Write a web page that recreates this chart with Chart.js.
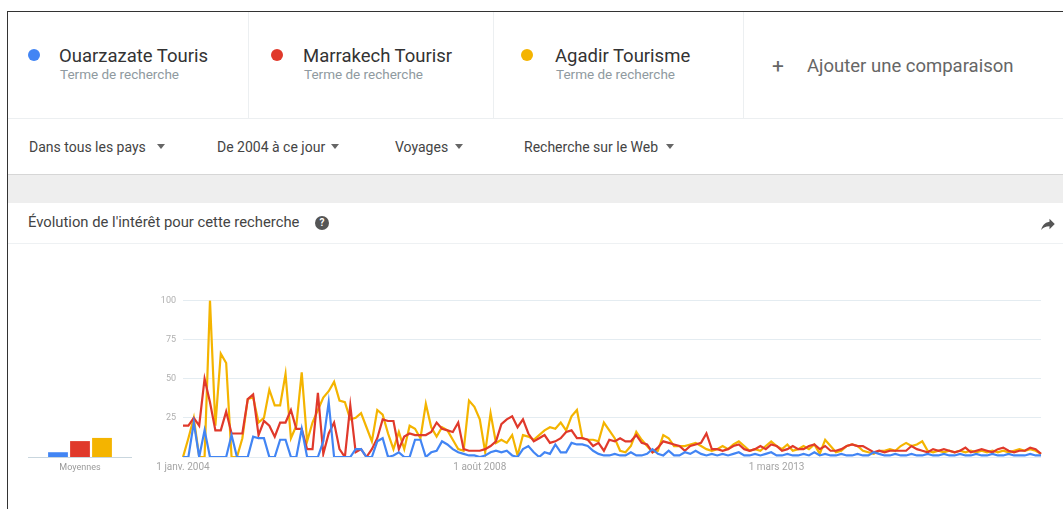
<!DOCTYPE html>
<html lang="fr">
<head>
<meta charset="utf-8">
<title>Évolution de l'intérêt pour cette recherche</title>
<script src="https://cdn.jsdelivr.net/npm/chart.js"></script>
<style>
  html, body { margin: 0; padding: 0; background: #fff; }
  body {
    width: 1063px; height: 509px; position: relative; overflow: hidden;
    font-family: Roboto, "Noto Sans", Arial, sans-serif; color: #333;
  }
  .abs { position: absolute; white-space: nowrap; }
  .frame { position: absolute; left: 7px; top: 11px; width: 1070px; height: 520px;
           border-top: 1px solid #333; border-left: 1px solid #333; }
  .vsep { position: absolute; top: 12px; width: 1px; height: 106px; background: #eceff1; }
  .dot { position: absolute; width: 12px; height: 12px; border-radius: 50%; }
  .name { font-size: 18.5px; line-height: 22px; color: #333; }
  .sub { font-size: 13.5px; line-height: 16px; color: #8f9aa0; }
  .filter { font-size: 14px; line-height: 16px; color: #444; }
  .caret { position: absolute; width: 0; height: 0;
           border-left: 4px solid transparent; border-right: 4px solid transparent;
           border-top: 5px solid #666; }
  .band { position: absolute; left: 8px; top: 174px; width: 1060px; height: 28px;
          background: #eeeeee; border-top: 1px solid #d6d6d6; }
  .help { position: absolute; left: 315px; top: 216px; width: 14px; height: 14px; border-radius: 50%;
          background: #555; color: #fff; font-size: 10px; font-weight: bold; line-height: 14px; text-align: center; }
  .chartbox { position: absolute; }
</style>
</head>
<body>
<div class="frame"></div>

<!-- termes de recherche -->
<div class="dot" style="left:28px; top:49px; background:#4285f4"></div>
<div class="abs name" style="left:59px; top:45px">Ouarzazate Touris</div>
<div class="abs sub" style="left:60px; top:66px">Terme de recherche</div>
<div class="vsep" style="left:248px"></div>

<div class="dot" style="left:271px; top:49px; background:#e0392b"></div>
<div class="abs name" style="left:303px; top:45px">Marrakech Tourisr</div>
<div class="abs sub" style="left:304px; top:66px">Terme de recherche</div>
<div class="vsep" style="left:493px"></div>

<div class="dot" style="left:521px; top:49px; background:#f4b400"></div>
<div class="abs name" style="left:555px; top:45px">Agadir Tourisme</div>
<div class="abs sub" style="left:556px; top:66px">Terme de recherche</div>
<div class="vsep" style="left:743px"></div>

<div class="abs" style="left:772px; top:54px; font-size:21px; line-height:24px; color:#666">+</div>
<div class="abs name" style="left:807px; top:55px; color:#666">Ajouter une comparaison</div>

<div class="abs" style="left:8px; top:118px; width:1060px; height:1px; background:#eceff1"></div>

<!-- filtres -->
<div class="abs filter" style="left:29px; top:139px">Dans tous les pays</div>
<div class="caret" style="left:157px; top:144px"></div>
<div class="abs filter" style="left:217px; top:139px">De 2004 à ce jour</div>
<div class="caret" style="left:331px; top:144px"></div>
<div class="abs filter" style="left:395px; top:139px">Voyages</div>
<div class="caret" style="left:455px; top:144px"></div>
<div class="abs filter" style="left:524px; top:139px">Recherche sur le Web</div>
<div class="caret" style="left:666px; top:144px"></div>

<div class="band"></div>

<!-- carte du graphique -->
<div class="abs" style="left:28px; top:213px; font-size:14.8px; line-height:18px; color:#444">Évolution de l'intérêt pour cette recherche</div>
<div class="help">?</div>
<svg class="abs" style="left:1039px; top:215px" width="18" height="18" viewBox="0 0 24 24">
  <path d="M14 9V5l7 7-7 7v-4.1c-5 0-8.5 1.6-11 5.1 1-5 4-10 11-11z" fill="#555"/>
</svg>
<div class="abs" style="left:8px; top:243px; width:1060px; height:1px; background:#eef1f3"></div>

<div class="abs" style="left:28px; top:457px; width:104px; height:1px; background:#c9d6de"></div>
<div class="chartbox" style="left:28px; top:288px; width:104px; height:190px"><canvas id="avgChart"></canvas></div>
<div class="chartbox" style="left:140px; top:288px; width:915px; height:190px"><canvas id="trendChart"></canvas></div>

<script>
// search terms and colours
const terms = ['Ouarzazate Touris', 'Marrakech Tourisr', 'Agadir Tourisme'];
const termColors = ['#4285f4', '#e0392b', '#f4b400'];

// averages (same 0-100 scale)
const averages = [3, 10, 12];

// monthly interest, janv. 2004 -> avr. 2017
const ouarzazate = [
  0, 0, 22, 0, 17, 0, 0, 0, 0, 14,
  0, 0, 0, 13, 12, 12, 0, 0, 11, 11,
  0, 0, 18, 0, 0, 0, 10, 35, 0, 0,
  0, 0, 5, 5, 0, 0, 10, 12, 0, 1,
  3, 0, 0, 11, 11, 0, 3, 4, 10, 8,
  5, 3, 2, 1, 1, 0, 1, 3, 4, 3,
  4, 1, 0, 5, 7, 3, 0, 3, 2, 8,
  3, 3, 9, 8, 8, 7, 4, 2, 1, 1,
  2, 1, 1, 3, 1, 1, 2, 5, 2, 1,
  4, 1, 1, 3, 2, 4, 2, 1, 2, 1,
  2, 1, 2, 3, 1, 1, 2, 1, 2, 3,
  1, 1, 2, 1, 1, 2, 1, 3, 1, 2,
  1, 1, 2, 1, 1, 2, 1, 1, 3, 2,
  1, 1, 2, 1, 1, 2, 1, 1, 2, 1,
  1, 2, 1, 1, 2, 1, 1, 2, 1, 1,
  2, 1, 1, 2, 1, 1, 1, 2, 1, 1
];
const marrakech = [
  20, 20, 25, 20, 50, 35, 17, 17, 29, 15,
  15, 15, 37, 40, 14, 23, 20, 13, 22, 22,
  30, 18, 18, 5, 5, 41, 2, 15, 22, 5,
  0, 33, 3, 5, 0, 5, 12, 24, 23, 23,
  5, 13, 15, 14, 14, 14, 16, 22, 18, 17,
  16, 22, 5, 4, 4, 4, 5, 7, 10, 21,
  24, 26, 19, 24, 15, 10, 12, 14, 9, 10,
  12, 16, 17, 12, 12, 11, 7, 9, 4, 11,
  10, 12, 10, 10, 14, 9, 8, 3, 6, 10,
  9, 8, 7, 4, 7, 8, 9, 15, 5, 5,
  4, 5, 7, 8, 5, 4, 5, 7, 5, 8,
  7, 4, 5, 7, 5, 5, 7, 8, 5, 7,
  4, 4, 5, 7, 8, 7, 7, 5, 3, 4,
  3, 4, 4, 4, 4, 7, 5, 4, 3, 5,
  4, 5, 4, 3, 4, 6, 3, 4, 5, 4,
  3, 5, 6, 4, 3, 4, 4, 6, 5, 2
];
const agadir = [
  0, 12, 25, 0, 0, 100, 20, 66, 60, 0,
  0, 12, 37, 38, 22, 25, 43, 33, 33, 53,
  12, 20, 54, 10, 22, 30, 38, 42, 48, 36,
  35, 24, 25, 28, 19, 10, 30, 27, 15, 5,
  16, 5, 20, 18, 12, 34, 19, 13, 19, 17,
  11, 5, 4, 36, 32, 24, 3, 28, 9, 11,
  9, 14, 1, 14, 13, 11, 14, 17, 19, 18,
  22, 17, 26, 30, 12, 11, 11, 10, 22, 17,
  12, 4, 3, 7, 16, 11, 7, 3, 4, 14,
  12, 7, 7, 7, 8, 9, 7, 5, 4, 5,
  7, 5, 8, 10, 7, 4, 5, 4, 7, 10,
  7, 5, 8, 4, 5, 7, 5, 8, 2, 11,
  7, 3, 4, 7, 8, 7, 4, 3, 2, 4,
  4, 5, 4, 7, 9, 7, 8, 10, 4, 3,
  4, 3, 4, 3, 4, 3, 4, 3, 4, 3,
  4, 3, 4, 3, 4, 5, 4, 5, 4, 2
];

// axis ticks
const monthNames = ['janv.', 'févr.', 'mars', 'avr.', 'mai', 'juin', 'juil.', 'août', 'sept.', 'oct.', 'nov.', 'déc.'];
const xTickIndex = [0, 55, 110];
const xTickText = ['1 janv. 2004', '1 août 2008', '1 mars 2013'];
const yTicks = [25, 50, 75, 100];

const months = [];
for (let i = 0; i < agadir.length; i++) {
    months.push('1 ' + monthNames[i % 12] + ' ' + (2004 + Math.floor(i / 12)));
}

Chart.defaults.font.family = 'Roboto, "Noto Sans", Arial, sans-serif';
Chart.defaults.animation = false;

// averages bars
new Chart(document.getElementById('avgChart'), {
    type: 'bar',
    data: {
        labels: terms,
        datasets: [{
            data: averages,
            backgroundColor: termColors,
            categoryPercentage: 1,
            barPercentage: 0.9
        }]
    },
    options: {
        responsive: true,
        maintainAspectRatio: false,
        layout: { padding: { top: 10, left: 19, right: 19 } },
        plugins: { legend: { display: false }, tooltip: { enabled: false } },
        scales: {
            y: { display: false, min: 0, max: 100 },
            x: {
                grid: { display: false },
                border: { display: false },
                ticks: { display: false },
                title: { display: true, text: 'Moyennes', color: '#9a9a9a', font: { size: 9 }, padding: { top: 2, bottom: 5 } },
                afterFit: scale => { scale.height = 21; }
            }
        }
    }
});

// interest over time
new Chart(document.getElementById('trendChart'), {
    type: 'line',
    data: {
        labels: months,
        datasets: [
            { label: terms[0], data: ouarzazate, borderColor: termColors[0] },
            { label: terms[1], data: marrakech, borderColor: termColors[1] },
            { label: terms[2], data: agadir, borderColor: termColors[2] }
        ].map(ds => Object.assign(ds, { borderWidth: 2.2, pointRadius: 0, tension: 0, fill: false }))
    },
    options: {
        responsive: true,
        maintainAspectRatio: false,
        layout: { padding: { top: 10, right: 14 } },
        plugins: { legend: { display: false }, tooltip: { enabled: false } },
        scales: {
            x: {
                offset: false,
                grid: { display: false, drawTicks: false },
                border: { display: false },
                ticks: {
                    autoSkip: false, maxRotation: 0, minRotation: 0, padding: 4,
                    color: '#a5a5a5', font: { size: 10 },
                    callback: (v, i) => {
                        const k = xTickIndex.indexOf(i);
                        return k >= 0 ? xTickText[k] : '';
                    }
                },
                afterFit: scale => { scale.height = 21; }
            },
            y: {
                min: 0, max: 100,
                grid: { color: '#e4ecf1', drawTicks: false },
                border: { display: false },
                afterBuildTicks: scale => { scale.ticks = [0].concat(yTicks).map(v => ({ value: v })); },
                ticks: {
                    padding: 7, color: '#b0b0b0', font: { size: 9 },
                    callback: v => (yTicks.includes(v) ? v : '')
                },
                afterFit: scale => { scale.width = 43; }
            }
        }
    }
});
</script>
</body>
</html>
